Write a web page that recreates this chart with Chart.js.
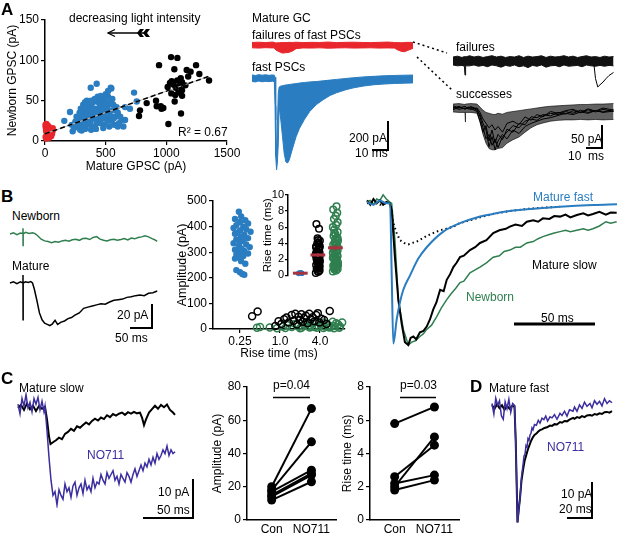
<!DOCTYPE html>
<html>
<head>
<meta charset="utf-8">
<script src="https://cdn.jsdelivr.net/npm/chart.js@4.4.0/dist/chart.umd.min.js"></script>
<style>
  body { margin: 0; background: #fff; }
  #fig { position: relative; width: 617px; height: 535px; overflow: hidden; font-family: 'Liberation Sans', Arial, sans-serif; color: #000; }
  #fig canvas { position: absolute; }
  .lbl { position: absolute; font-size: 12px; line-height: 1; white-space: pre; transform: translateY(-50%); }
  .pl { font-weight: bold; font-size: 17px; }
  #fig svg { position: absolute; left: 0; top: 0; }
</style>
</head>
<body>
<div id="fig"></div>
<script>
// ---------- data ----------
// A: newborn vs mature GPSC amplitude (pA)
const redPts = [[4,20],[12,21],[22,19],[6,17],[18,16],[30,18],[40,15],[52,14],[62,12],[9,13],[27,12],[44,11],[58,9],[14,10],[24,8],[36,7],[50,6],[5,5],[18,4],[32,4],[10,3],[42,9],[28,15],[55,10],[16,12],[36,13],[64,16],[48,13]];
const bluePts = [[377,66],[426,71],[542,66],[547,65],[734,60],[756,49],[159,25],[206,36],[220,20],[228,12],[302,13],[646,18],[660,26],[632,26],[660,42],[563,45],
  [280,22],[290,28],[300,18],[310,32],[320,25],[330,15],[340,38],[350,22],[360,30],[370,20],[380,45],[390,28],[400,35],[410,18],[420,50],[430,25],[440,40],[450,30],[460,22],[470,52],[480,35],[490,45],[500,28],[510,40],[520,55],[530,32],[540,48],[550,25],[560,38],[570,20],[580,30],[590,42],[600,35],[610,22],
  [260,30],[270,18],[285,35],[295,40],[305,25],[315,45],[325,30],[335,20],[345,50],[355,35],[365,42],[375,25],[385,38],[395,48],[405,30],[415,40],[425,22],[435,55],[445,35],[455,45],[465,28],[475,40],[485,20],[495,50],[505,33],[515,25],[525,45],[535,37],[545,30],[555,52],[565,28],[575,40],[500,58],[520,62],[480,48],[460,56],[440,48],[410,52],[380,50],[350,42],[330,48],[310,38],[290,14],[250,24],[240,16],[480,16],[530,18],[600,18],[620,30],[700,40],[380,14],[420,15]];
const blackPts = [[940,94],[1039,104],[1091,103],[1066,89],[1168,88],[1245,94],[1272,83],[1352,75],[1044,74],[1011,67],[1058,70],[1119,78],[1129,73],[1157,69],[1077,66],[1041,59],[1074,57],[1129,63],[1069,49],[915,50],[954,43],[921,43],[975,41],[838,47],[783,38],[775,31],[1017,21],[1121,34],[1090,75],[1180,80],[1100,60],[960,40],[1030,72],[1200,86],[1130,56],[1105,68]];
const regIntercept = 9, regSlope = 0.0527, regXmax = 1350;
const gpscTicksX = [0, 500, 1000, 1500];
const gpscTicksY = [0, 50, 100, 150];

// A traces: [t (ms), upper pA, lower pA] envelopes
const fastBand = [[0,22,-25],[2,18,-28],[4,24,-22],[6,20,-27],[8,23,-24],[10,19,-26],[12,22,-23],[13.2,20,-26],[13.6,5,-200],[14.0,-300,-560],[14.5,-600,-657],[15.0,-330,-600],[15.5,-110,-470],[16,-65,-200],[17,-58,-300],[18,-55,-420],[19,-52,-540],[20,-50,-600],[21,-48,-607],[22,-46,-585],[24,-43,-500],[26,-40,-420],[28,-36,-360],[31,-32,-295],[34,-28,-240],[38,-25,-190],[42,-20,-155],[46,-15,-125],[50,-10,-105],[55,-4,-85],[60,2,-70],[66,8,-57],[72,12,-48],[78,16,-43],[84,18,-39],[90,20,-37],[95,21,-35]];
const failRedBand = [[0,18,-20],[4,20,-22],[8,17,-19],[12,21,-21],[13,19,-20],[14,15,-35],[16,16,-48],[18,18,-58],[20,17,-55],[22,19,-52],[24,18,-42],[26,20,-26],[30,17,-21],[35,19,-22],[40,18,-20],[45,21,-23],[50,17,-21],[55,19,-20],[60,20,-22],[65,18,-21],[70,17,-20],[75,19,-22],[80,21,-21],[84,18,-22],[86,17,-35],[88,16,-45],[90,18,-48],[92,19,-38],[95,18,-24]];
const failBand = [[0,9,-9],[3,11,-11],[6,8,-10],[7.6,10,-12],[8,10,-32],[8.4,9,-11],[11,12,-11],[14,9,-9],[17,11,-12],[20,8,-10],[23,10,-13],[26,12,-9],[29,9,-11],[32,11,-14],[35,8,-10],[38,10,-12],[41,9,-9],[44,12,-13],[47,8,-11],[50,11,-15],[53,9,-10],[56,10,-12],[59,12,-9],[62,8,-14],[65,11,-11],[68,9,-10],[71,10,-13],[74,12,-9],[77,9,-12],[80,11,-11],[83,8,-10],[86,10,-13],[89,12,-9],[92,9,-11],[95,10,-12],[98,8,-10],[101,11,-12],[104,9,-10],[107,10,-11]];
const failEvent = [[94,-9],[95,-40],[96.5,-59],[98,-54],[100,-48],[102,-40],[104,-33],[107,-26]];
const succBand = [[0,9,-9],[4,10,-10],[8,8,-10],[8.2,8,-32],[8.4,9,-10],[12,10,-10],[16,9,-12],[18,2,-32],[20,-5,-60],[22,-10,-80],[24,-12,-92],[26,-14,-95],[28,-15,-95],[30,-12,-92],[33,-14,-90],[36,-10,-80],[40,-8,-72],[44,-6,-66],[48,-4,-55],[52,-2,-45],[56,0,-38],[60,2,-34],[65,4,-30],[70,5,-28],[75,6,-27],[80,7,-27],[85,8,-26],[90,8,-27],[95,9,-26],[100,9,-27],[107,10,-26]];
const succT = [0,4,8,10,12,16,18,20,22,24,26,28,30,33,36,40,44,48,52,56,60,65,70,75,80,85,90,95,100,107];
const succ1 = [2,-3,0,-1,3,-2,-20,-45,-70,-60,-85,-70,-90,-65,-55,-40,-45,-30,-25,-28,-18,-12,-15,-8,-12,-5,-10,-6,-9,-4];
const succ2 = [-4,2,-2,1,-1,-8,-30,-55,-40,-75,-50,-80,-60,-72,-48,-55,-35,-38,-20,-22,-15,-18,-10,-14,-6,-11,-4,-9,-3,-8];
const succ3 = [5,0,4,-2,-3,0,-10,-25,-35,-45,-38,-50,-42,-55,-35,-30,-38,-20,-28,-15,-20,-8,-12,-6,-3,-10,-2,-7,0,-5];
const succ4 = [-1,4,-3,2,2,-5,-15,-35,-50,-88,-65,-95,-75,-60,-70,-50,-58,-42,-35,-30,-25,-22,-17,-12,-15,-9,-12,-6,-10,-7];

// B left traces [t (ms), pA]
const newbornTrace = [[0,0],[8,1],[16,-0.5],[24,0.8],[29.8,0.5],[30,5],[30.2,-10],[30.4,0],[36,1.5],[44,0.5],[52,1],[58,0.3],[64,-1.5],[72,-4.5],[80,-6],[88,-6.5],[96,-7.5],[104,-6.5],[112,-7.2],[120,-6],[128,-5.5],[136,-6.2],[144,-5],[152,-4.5],[160,-5.5],[168,-4],[176,-3.8],[184,-4.8],[192,-3],[200,-2.2],[208,-4.5],[216,-5.5],[224,-6],[232,-5],[240,-4.5],[248,-5.5],[256,-4.8],[264,-4],[272,-5.2],[280,-3.5],[288,-4.2],[296,-3],[304,-2.5],[312,-1.5],[320,-2.5],[328,-4],[334,-5],[340,-6.5]];
const matureTrace = [[0,0],[8,1],[16,-0.5],[24,1],[29.8,0],[30,7],[30.2,-32],[30.4,0],[36,1],[42,0.5],[48,1.2],[52,0],[56,-5],[62,-15],[68,-26],[74,-32],[80,-35],[86,-36],[92,-37],[98,-35.5],[104,-32.5],[110,-36],[118,-34],[126,-33],[134,-31],[142,-30],[150,-28],[160,-26],[170,-22],[180,-21],[190,-20],[200,-19],[210,-18],[220,-18.5],[230,-16.5],[240,-15],[250,-14.5],[260,-14],[270,-12.5],[280,-12],[290,-11],[300,-10.5],[310,-11],[320,-9],[330,-8.5],[340,-7]];

// B scatter: [rise time (ms), amplitude (pA)]
const fastPSC = [[0.24,458],[0.26,440],[0.21,430],[0.3,425],[0.25,418],[0.33,412],[0.22,405],[0.28,400],[0.2,395],[0.31,390],[0.25,385],[0.36,380],[0.23,375],[0.21,372],[0.29,368],[0.26,360],[0.33,355],[0.22,350],[0.28,345],[0.25,340],[0.2,335],[0.31,330],[0.24,325],[0.35,320],[0.26,315],[0.21,310],[0.29,305],[0.25,300],[0.33,295],[0.22,290],[0.28,285],[0.24,280],[0.21,275],[0.26,265],[0.3,255],[0.22,230],[0.25,222],[0.27,215],[0.29,212]];
const matureSlowPSC = [[0.38,50],[0.46,68],[0.85,12],[0.95,30],[1.05,20],[1.15,38],[1.25,45],[1.35,25],[1.5,55],[1.6,32],[1.7,60],[1.8,18],[1.9,48],[2.0,35],[2.1,58],[2.2,28],[2.3,42],[2.45,52],[2.6,22],[2.75,60],[2.9,38],[3.1,46],[3.3,30],[3.5,55],[3.7,62],[3.9,25],[4.2,40],[4.6,35],[5.0,20],[5.6,70]];
const newbornPSC = [[0.45,5],[0.5,8],[0.7,6],[0.9,3],[1.1,10],[1.3,15],[1.5,8],[1.7,20],[1.9,12],[2.1,5],[2.3,18],[2.5,25],[2.7,10],[2.9,15],[3.1,22],[3.3,8],[3.5,30],[3.8,12],[4.1,18],[4.4,25],[4.7,10],[5.0,20],[5.4,15],[5.8,8],[6.2,28],[6.6,12],[7.0,22],[7.5,18],[8.0,10],[8.6,25],[1.2,4],[2.0,3],[2.8,6],[3.6,5],[4.5,4],[5.5,6],[6.5,3],[7.8,5]];
const riseTicks = [0.25, 1, 4];
const ampTicks = [0, 100, 200, 300, 400, 500];
// inset: rise times (ms) per group
const insetFast = [0.22,0.25,0.28,0.3,0.32,0.26,0.24,0.29,0.31,0.27,0.23,0.33,0.3,0.28,0.26,0.25,0.29,0.31,0.27,0.24];
const insetSlow = [0.3,0.45,0.6,0.8,1.0,1.1,1.3,1.5,1.6,1.8,1.9,2.0,2.1,2.2,2.3,2.4,2.5,2.6,2.8,3.0,3.2,3.4,3.6,3.8,4.0,4.3,4.6,5.8,6.4,0.5,1.2,2.0,2.7,3.3,1.7,2.5,4.4,0.9,3.5,4.1,2.9,3.6];
const insetNewborn = [0.5,0.6,0.8,0.9,1.0,1.1,1.2,1.4,1.5,1.6,1.8,2.0,2.1,2.3,2.4,2.6,2.8,3.0,3.1,3.3,3.4,3.6,3.8,4.0,4.1,4.3,4.5,4.7,4.9,5.1,5.4,5.7,6.0,6.3,6.6,7.0,7.4,7.8,8.2,8.6,0.7,1.3,1.9,2.5,3.2,3.9,4.6,5.3,2.2,2.9,3.5,1.0,1.7];
const insetTicks = [0, 2, 4, 6, 8, 10];
const jitter = [-0.35,0.1,0.3,-0.2,0.05,0.25,-0.3,0.15,-0.1,0.35,-0.05,0.2,-0.25,0.0,0.3,-0.15];

// B right: normalized averages [t (ms), fraction of peak]
const matureFastAvg = [[0,0.01],[4,-0.01],[8,0.02],[12,0],[14.3,0],[15.3,-0.5],[16.3,-0.99],[18.4,-0.82],[20.4,-0.7],[22.5,-0.61],[26.6,-0.51],[31.8,-0.39],[37,-0.31],[47.3,-0.2],[57.6,-0.14],[68,-0.1],[78.2,-0.075],[88,-0.055],[99,-0.042],[119.6,-0.024],[140,-0.012],[155,-0.007]];
const failuresAvg = [[0,0],[4,0.01],[8,-0.01],[12,0],[14.5,0],[16.3,-0.14],[18.4,-0.21],[20.4,-0.26],[23,-0.28],[25.6,-0.29],[28,-0.28],[30.8,-0.27],[34,-0.25],[37,-0.23],[41,-0.21],[45.3,-0.19],[49,-0.18],[53.5,-0.165],[57.6,-0.14],[68,-0.105],[78.2,-0.075],[88,-0.055],[99,-0.04],[110,-0.03],[119.6,-0.024]];
const matureSlowAvg = [[0,0.02],[2,-0.01],[4,0.03],[6,0],[8,0.02],[10,-0.01],[12,0.01],[14,0],[15.3,-0.05],[17.3,-0.38],[19.4,-0.68],[21.5,-0.85],[23.5,-0.98],[25.6,-1.0],[27,-0.95],[28.7,-0.94],[30.5,-0.96],[32.8,-0.91],[35,-0.9],[37,-0.87],[39,-0.82],[41,-0.75],[43,-0.7],[45.3,-0.61],[47.5,-0.62],[49.4,-0.54],[51.5,-0.5],[53.5,-0.45],[55.5,-0.42],[57.6,-0.38],[60,-0.37],[63.8,-0.33],[67,-0.31],[70,-0.28],[74,-0.26],[78.2,-0.21],[82,-0.19],[86,-0.18],[88.5,-0.165],[92,-0.15],[96,-0.16],[99,-0.13],[103,-0.12],[106,-0.13],[109,-0.106],[113,-0.11],[116,-0.09],[119.6,-0.094],[123,-0.08],[126,-0.1],[130,-0.083],[134,-0.07],[137,-0.085],[140,-0.075],[144,-0.06],[148,-0.08],[151,-0.065],[154.7,-0.066]];
const newbornAvg = [[0,0.01],[2,0.02],[4,-0.01],[6,0.03],[8,0.02],[10,0.06],[12,0.03],[14,0.01],[15.3,0],[17.3,-0.26],[19.4,-0.68],[22.5,-0.89],[25.6,-1.0],[27.7,-0.98],[30,-0.97],[32.8,-0.94],[35,-0.92],[37,-0.89],[40,-0.86],[43.2,-0.8],[46,-0.74],[49.4,-0.68],[52,-0.64],[55,-0.6],[57.6,-0.56],[60,-0.55],[63.8,-0.49],[67,-0.47],[70,-0.45],[74,-0.42],[78.2,-0.38],[82,-0.37],[85,-0.34],[88.5,-0.33],[92,-0.31],[95,-0.31],[99,-0.28],[103,-0.27],[106,-0.25],[109,-0.235],[113,-0.22],[116,-0.21],[119.6,-0.2],[123,-0.19],[126,-0.2],[130,-0.19],[134,-0.18],[137,-0.19],[140,-0.18],[144,-0.16],[148,-0.13],[151,-0.14],[154.7,-0.13]];

// C: mature slow traces [t (ms), pA]
const slowCon = [[0,0],[3,0.8],[6,-0.5],[9,1.2],[12,-0.3],[15,0.6],[18,-0.8],[21,0.5],[24,-0.2],[27,0.3],[29,-3],[31,-7.5],[32.5,-9.5],[35,-9],[38,-8.5],[41,-7.8],[44,-8.2],[47,-6.8],[50,-6.3],[53,-5.5],[56,-6],[59,-4.8],[62,-5.2],[65,-4.5],[68,-3.8],[71,-4.3],[74,-3.4],[77,-2.8],[80,-3.3],[83,-2.5],[86,-2.9],[89,-1.9],[92,-2.4],[95,-1.6],[98,-2.0],[101,-1.5],[104,-1.2],[107,-1.8],[110,-1.1],[113,-1.5],[116,-1.0],[119,-1.4],[122,-1.2],[124,-2.5],[126,-4.5],[128,-3],[131,-1.2],[134,-0.3],[137,0.6],[140,-0.2],[143,0.8],[146,0.2],[149,0.9],[152,-0.5],[155,-1.2],[157,-1.8]];
const slowNO711 = [[0,1],[2,-1.5],[4,2.5],[6,0.5],[8,3.5],[10,0],[12,1.5],[14,-1],[16,2.5],[18,1],[20,2.8],[22,-0.5],[24,1.8],[26,-1],[27,0.5],[29,-6],[31,-13],[33,-19],[35,-23],[37,-22],[39,-25.5],[41,-21.5],[43,-23],[45,-24],[47,-20],[49,-22],[51,-21],[53,-23.5],[55,-20.5],[57,-19.5],[59,-23],[61,-21],[63,-20],[65,-22.5],[67,-19],[69,-21.5],[71,-20.5],[73,-22],[75,-18.5],[77,-21],[79,-19.5],[81,-20],[83,-17.5],[85,-19],[87,-20],[89,-17],[91,-18.5],[93,-17.5],[95,-16.5],[97,-19],[99,-18],[101,-20],[103,-17.5],[105,-18.5],[107,-19.5],[109,-17],[111,-18],[113,-19.5],[115,-17.5],[117,-16],[119,-18],[121,-16.5],[123,-15],[125,-16.5],[127,-14.5],[129,-15.5],[131,-13.5],[133,-15],[135,-13],[137,-14.5],[139,-12],[141,-13.5],[143,-12.5],[145,-11],[147,-12],[149,-10],[151,-12.5],[153,-11],[155,-12],[157,-11.5]];
// C: paired values
const condLabels = ['Con', 'NO711'];
const ampCon = [20, 18, 17, 15, 14, 12];
const ampNO711 = [67, 47, 30, 28, 27, 23];
const ampTicksC = [0, 20, 40, 60, 80];
const riseCon = [5.8, 2.6, 2.0, 2.2, 1.8];
const riseNO711 = [6.8, 4.5, 5.0, 2.7, 2.4];
const riseTicksC = [0, 2, 4, 6, 8];

// D: mature fast traces [t (ms), pA]
const fastCon = [[0,0.5],[2,-0.5],[4,0.8],[6,-0.3],[8,0.5],[10,-0.8],[12,0.3],[14,-0.5],[16,0.3],[18,0.2],[19,-10],[20.4,-33],[21.5,-29],[22.4,-26],[23.6,-21],[24.8,-18],[26,-15.5],[27.2,-14],[28,-13],[29,-11.8],[30.4,-10.5],[31.5,-9.5],[32.8,-8.6],[34,-8],[35.5,-7.6],[37,-7],[38.4,-6.6],[40,-6.4],[42,-6],[44,-5.8],[46.4,-5.3],[48,-5.4],[50,-4.9],[52,-5],[54.4,-4.3],[56,-4.5],[58,-4],[60,-4.1],[62,-3.6],[64.8,-3.1],[66,-3.4],[68,-2.9],[70,-3.1],[72,-2.6],[74,-2.9],[76,-2.4],[78.4,-2.3],[80,-2.5],[82,-2],[84,-2.2],[86,-1.8],[88,-2],[90,-1.5],[92,-1.4],[94,-1.6],[96,-1.2]];
const fastNO711 = [[0,1],[1.5,-2],[3,2.5],[4.5,0.5],[6,1.8],[7.5,-2.5],[9,-3.5],[10.5,1.5],[12,-0.5],[13.5,2.2],[15,-1.5],[16.5,1],[18,0.5],[19,-10],[20.4,-33],[21.5,-29],[22.4,-26],[23.6,-20],[24.8,-16.6],[25.6,-14],[26.4,-13.5],[27.2,-11],[28,-11.5],[28.8,-9],[29.6,-9.5],[30.4,-8],[31.2,-7.5],[32,-6],[32.8,-6.5],[34,-5],[35.5,-5.2],[37,-3.8],[38.4,-4.6],[40,-3.2],[41.5,-3.6],[43,-2.6],[44.5,-4],[46.4,-2.8],[48,-3.1],[50,-2.2],[52,-3.5],[54.4,-1.8],[56,-2.4],[58,-1.2],[60,-2.6],[62,-0.8],[64.8,-1.2],[66,0],[68,-1.2],[70,0.6],[72,-0.4],[74,1.4],[76,0.2],[78.4,1],[80,-0.2],[82,1.8],[84,0.8],[86,1.6],[88,0.3],[90,2.4],[92,1],[94,1.8],[96,1.2]];

// ---------- setup ----------
const BLUE = '#2a7dc0', RED = '#e8262c', GREEN = '#2f7f4f', INDIGO = '#3b2e9e', MEANRED = '#a8323e';
const FONT = "'Liberation Sans', Arial, sans-serif";
Chart.defaults.font.family = FONT;
Chart.defaults.color = '#000';
Chart.defaults.animation = false;
Chart.defaults.events = [];
Chart.defaults.plugins.legend.display = false;
Chart.defaults.plugins.tooltip.enabled = false;

const fig = document.getElementById('fig');
const pts = arr => arr.map(([x, y]) => ({ x, y }));
const zip = (t, v) => t.map((x, i) => ({ x, y: v[i] }));
const mean = a => a.reduce((s, v) => s + v, 0) / a.length;
const sem = a => { const m = mean(a); return Math.sqrt(a.reduce((s, v) => s + (v - m) ** 2, 0) / (a.length - 1) / a.length); };

// scale bars, arrow, connectors (placed under the canvases)
const svgNS = 'http://www.w3.org/2000/svg';
const svg = document.createElementNS(svgNS, 'svg');
svg.setAttribute('width', 617); svg.setAttribute('height', 535);
svg.innerHTML = `
  <g stroke="#000" stroke-width="2" fill="none" stroke-linecap="square">
    <path d="M388 122 V150 H373"/>
    <path d="M602 126 V148 H587"/>
    <path d="M152 305 V328 H131"/>
    <path d="M193 480 V518 H144"/>
    <path d="M592 483 V518 H568"/>
  </g>
  <line x1="514" y1="324" x2="595" y2="324" stroke="#000" stroke-width="3"/>
  <g stroke="#000" stroke-width="1.5">
    <line x1="273" y1="397.5" x2="310" y2="397.5"/>
    <line x1="400" y1="397.5" x2="436" y2="397.5"/>
  </g>
  <g stroke="#000" stroke-width="1.5" stroke-dasharray="2 3">
    <line x1="413" y1="42" x2="447" y2="53"/>
    <line x1="417" y1="57" x2="452" y2="90"/>
  </g>
  <g stroke="#000" stroke-width="1.3" fill="none">
    <line x1="108" y1="33" x2="146" y2="33"/>
    <polyline points="115,29.5 108,33 115,36.5"/>
  </g>
  <g fill="#000">
    <polygon points="140,29 144,29 141,33 144,37 140,37 137,33"/>
    <polygon points="146,29 150,29 147,33 150,37 146,37 143,33"/>
  </g>`;
fig.appendChild(svg);

function addCanvas(l, t, w, h) {
  const c = document.createElement('canvas');
  c.width = w; c.height = h;
  c.style.left = l + 'px'; c.style.top = t + 'px';
  c.style.width = w + 'px'; c.style.height = h + 'px';
  fig.appendChild(c);
  return c;
}

function line(data, color, width, extra) {
  return Object.assign({ data, showLine: true, borderColor: color, borderWidth: width, pointRadius: 0, fill: false, clip: false }, extra || {});
}

function band(rows, color) {
  return [
    line(rows.map(r => ({ x: r[0], y: r[1] })), color, 1),
    line(rows.map(r => ({ x: r[0], y: r[2] })), color, 1, { fill: '-1', backgroundColor: color })
  ];
}

// trace panel: box = canvas [left, top, w, h]; map = [x px of t=0, px per x unit, y px of 0, px per y unit]
function traceChart(box, map, datasets) {
  const [l, t, w, h] = box;
  const [x0, px, y0, py] = map;
  new Chart(addCanvas(l, t, w, h), {
    type: 'scatter',
    data: { datasets },
    options: {
      responsive: false, devicePixelRatio: 1,
      layout: { padding: 0 },
      scales: {
        x: { display: false, min: (l - x0) / px, max: (l + w - x0) / px },
        y: { display: false, min: (y0 - t - h) / py, max: (y0 - t) / py }
      }
    }
  });
}

function yAxis(min, max, tickVals, width, title, tsize, tpad, fsize, tickLen, tickPad) {
  return {
    min, max,
    afterBuildTicks: s => { s.ticks = tickVals.map(v => ({ value: v })); },
    ticks: { font: { size: fsize || 12 }, padding: tickPad === undefined ? 2 : tickPad, color: '#000', autoSkip: false, callback: v => String(v) },
    grid: { drawOnChartArea: false, tickLength: tickLen || 4, color: '#000', lineWidth: 1.2 },
    border: { color: '#000', width: 1.5 },
    title: { display: true, text: title, color: '#000', font: { size: tsize }, padding: { top: tpad, bottom: 0 } },
    afterFit: s => { s.width = width; }
  };
}

// ---------- A: scatter ----------
const regLine = [{ x: 0, y: regIntercept }, { x: regXmax, y: regIntercept + regSlope * regXmax }];
new Chart(addCanvas(0, 6, 243, 169), {
  type: 'scatter',
  data: { datasets: [
    line(regLine, '#000', 1.5, { borderDash: [5, 3] }),
    line(regLine, '#bbb', 1),
    { data: pts(redPts), backgroundColor: RED, pointRadius: 3.2, borderWidth: 0, clip: false },
    { data: pts(blackPts), backgroundColor: '#000', pointRadius: 3.2, borderWidth: 0, clip: false },
    { data: pts(bluePts), backgroundColor: BLUE, pointRadius: 3.2, borderWidth: 0, clip: false }
  ]},
  options: {
    responsive: false, devicePixelRatio: 1,
    layout: { padding: { left: 0, right: 16, top: 14, bottom: 0 } },
    scales: {
      x: {
        min: 0, max: 1500,
        afterBuildTicks: s => { s.ticks = gpscTicksX.map(v => ({ value: v })); },
        ticks: { font: { size: 12 }, padding: 1, maxRotation: 0, autoSkip: false, color: '#000', callback: v => String(v) },
        grid: { drawOnChartArea: false, tickLength: 4, color: '#000', lineWidth: 1.2 },
        border: { color: '#000', width: 1.5 },
        title: { display: true, text: 'Mature GPSC (pA)', color: '#000', font: { size: 12 }, padding: { top: 0, bottom: 1 } },
        afterFit: s => { s.height = 34; }
      },
      y: yAxis(0, 150, gpscTicksY, 45, 'Newborn GPSC (pA)', 12, 5)
    }
  }
});

// ---------- A: traces ----------
traceChart([248, 36, 170, 22], [252, 1.695, 45, 0.14], band(failRedBand, RED));
traceChart([248, 70, 170, 106], [252, 1.695, 78, 0.14], band(fastBand, BLUE));
traceChart([449, 52, 168, 40], [453, 1.5, 61, 0.44], [line(pts(failEvent), '#000', 1)].concat(band(failBand, '#111')));
traceChart([449, 98, 168, 58], [453, 1.5, 108, 0.44], [
  line(zip(succT, succ1), '#000', 1), line(zip(succT, succ2), '#000', 1),
  line(zip(succT, succ3), '#000', 1), line(zip(succT, succ4), '#000', 1)
].concat(band(succBand, 'rgba(0,0,0,0.62)')));

// ---------- B: traces ----------
traceChart([6, 224, 156, 26], [10, 0.433, 234, 1.15], [line(pts(newbornTrace), GREEN, 1.5)]);
traceChart([6, 270, 156, 62], [10, 0.433, 283, 1.15], [line(pts(matureTrace), '#000', 1.5)]);

// ---------- B: scatter ----------
new Chart(addCanvas(170, 188, 182, 174), {
  type: 'scatter',
  data: { datasets: [
    { data: pts(fastPSC), backgroundColor: BLUE, pointRadius: 3.2, borderWidth: 0, clip: false },
    { data: pts(matureSlowPSC), backgroundColor: 'rgba(0,0,0,0)', borderColor: '#000', pointRadius: 3.5, borderWidth: 1.5, clip: false },
    { data: pts(newbornPSC), backgroundColor: 'rgba(0,0,0,0)', borderColor: GREEN, pointRadius: 3.5, borderWidth: 1.5, clip: false }
  ]},
  options: {
    responsive: false, devicePixelRatio: 1,
    layout: { padding: { left: 0, right: 7, top: 13, bottom: 0 } },
    scales: {
      x: {
        type: 'logarithmic', min: 0.098, max: 9.5, bounds: 'data',
        afterBuildTicks: s => { s.ticks = riseTicks.map(v => ({ value: v })); },
        ticks: { callback: v => (v === 0.25 ? '0.25' : Number(v).toFixed(1)), font: { size: 12 }, padding: 1, autoSkip: false, maxRotation: 0, color: '#000' },
        grid: { drawOnChartArea: false, tickLength: 4, color: '#000', lineWidth: 1.2 },
        border: { color: '#000', width: 1.5 },
        title: { display: true, text: 'Rise time (ms)', color: '#000', font: { size: 12 }, padding: { top: 0, bottom: 1 } },
        afterFit: s => { s.height = 33; }
      },
      y: yAxis(0, 500, ampTicks, 43, 'Amplitude (pA)', 12.5, 5)
    }
  }
});

// inset
const groups = [insetFast, insetSlow, insetNewborn];
const spread = [0.28, 0.33, 0.42];
const jittered = (vals, g) => vals.map((v, i) => ({ x: g + jitter[i % jitter.length] * spread[g], y: v }));
const meanSets = [];
groups.forEach((vals, g) => {
  const m = mean(vals), e = sem(vals);
  meanSets.push(line([{ x: g - 0.42, y: m }, { x: g + 0.42, y: m }], MEANRED, 3));
  meanSets.push(line([{ x: g, y: m - e }, { x: g, y: m + e }], MEANRED, 2));
});
new Chart(addCanvas(258, 186, 94, 97), {
  type: 'scatter',
  data: { datasets: meanSets.concat([
    { data: jittered(insetFast, 0), backgroundColor: BLUE, pointRadius: 2.5, borderWidth: 0, clip: false },
    { data: jittered(insetSlow, 1), backgroundColor: 'rgba(0,0,0,0)', borderColor: '#000', pointRadius: 3.3, borderWidth: 1.5, clip: false },
    { data: jittered(insetNewborn, 2), backgroundColor: 'rgba(0,0,0,0)', borderColor: GREEN, pointRadius: 3.3, borderWidth: 1.5, clip: false }
  ])},
  options: {
    responsive: false, devicePixelRatio: 1,
    layout: { padding: { left: 0, right: 4, top: 9, bottom: 4 } },
    scales: {
      x: { display: false, min: -0.7, max: 2.63 },
      y: yAxis(0, 10, insetTicks, 30, 'Rise time (ms)', 11.5, 3, 11, 3, 1)
    }
  }
});

// ---------- B: normalized averages ----------
traceChart([363, 190, 254, 160], [367, 1.614, 203.3, 141.7], [
  line(pts(matureFastAvg), BLUE, 2, { cubicInterpolationMode: 'monotone' }),
  line(pts(failuresAvg), '#000', 2, { borderDash: [1.5, 3] }),
  line(pts(matureSlowAvg), '#000', 2),
  line(pts(newbornAvg), GREEN, 1.5)
]);

// ---------- C: traces ----------
traceChart([14, 392, 166, 116], [18, 1.0, 408, 3.8], [
  line(pts(slowNO711), INDIGO, 1.5),
  line(pts(slowCon), '#000', 2)
]);

// ---------- C: paired plots ----------
function pairedChart(box, width, tpad, con, drug, ymax, tickVals, title) {
  const [l, t, w, h] = box;
  const sets = con.map((v, i) => ({
    data: [{ x: 0, y: v }, { x: 1, y: drug[i] }], showLine: true,
    borderColor: '#000', borderWidth: 2, backgroundColor: '#000', pointRadius: 4.5, pointBorderWidth: 0, clip: false
  }));
  new Chart(addCanvas(l, t, w, h), {
    type: 'scatter',
    data: { datasets: sets },
    options: {
      responsive: false, devicePixelRatio: 1,
      layout: { padding: { left: 0, right: 4, top: 12, bottom: 0 } },
      scales: {
        x: {
          min: -0.62, max: 1.63,
          afterBuildTicks: s => { s.ticks = [0, 1].map(v => ({ value: v })); },
          ticks: { callback: v => condLabels[v], font: { size: 12 }, padding: 2, maxRotation: 0, autoSkip: false, color: '#000' },
          grid: { display: false, drawTicks: false },
          border: { color: '#000', width: 1.5 },
          afterFit: s => { s.height = 15; }
        },
        y: yAxis(0, ymax, tickVals, width, title, 12, tpad)
      }
    }
  });
}
pairedChart([205, 375, 136, 160], 42, 5, ampCon, ampNO711, 80, ampTicksC, 'Amplitude (pA)');
pairedChart([335, 375, 129, 160], 35, 5, riseCon, riseNO711, 8, riseTicksC, 'Rise time (ms)');

// ---------- D: traces ----------
traceChart([488, 393, 126, 134], [492, 1.25, 407, 3.5], [
  line(pts(fastNO711), INDIGO, 1.5),
  line(pts(fastCon), '#000', 2)
]);

// ---------- labels ----------
const labels = [
  ['A', 1, 9, 'pl'], ['decreasing light intensity', 69, 18], ['R\u00b2 = 0.67', 178, 132],
  ['Mature GC', 252, 18], ['failures of fast PSCs', 252, 35], ['fast PSCs', 252, 66.5],
  ['200 pA', 349, 138], ['10 ms', 355, 152.5],
  ['failures', 456, 47], ['successes', 456, 94], ['50 pA', 571, 139], ['10  ms', 568, 155.5],
  ['B', 1, 196, 'pl'], ['Newborn', 12, 216], ['Mature', 12, 266], ['20 pA', 117, 315], ['50 ms', 115, 337.5],
  ['Mature fast', 533, 197, null, BLUE], ['Mature slow', 532, 265], ['Newborn', 466, 297, null, GREEN], ['50 ms', 541, 318],
  ['C', 1, 378, 'pl'], ['Mature slow', 19, 387.5], ['NO711', 87, 455, null, INDIGO], ['10 pA', 158, 492], ['50 ms', 157, 510],
  ['p=0.04', 273, 385], ['p=0.03', 400, 385],
  ['D', 470, 386, 'pl'], ['Mature fast', 489, 387.5], ['NO711', 547, 447, null, INDIGO], ['10 pA', 561, 494], ['20 ms', 559, 509]
];
labels.forEach(([text, x, y, cls, color]) => {
  const d = document.createElement('div');
  d.className = 'lbl' + (cls ? ' ' + cls : '');
  d.textContent = text;
  d.style.left = x + 'px';
  d.style.top = y + 'px';
  if (color) d.style.color = color;
  fig.appendChild(d);
});
</script>
</body>
</html>
